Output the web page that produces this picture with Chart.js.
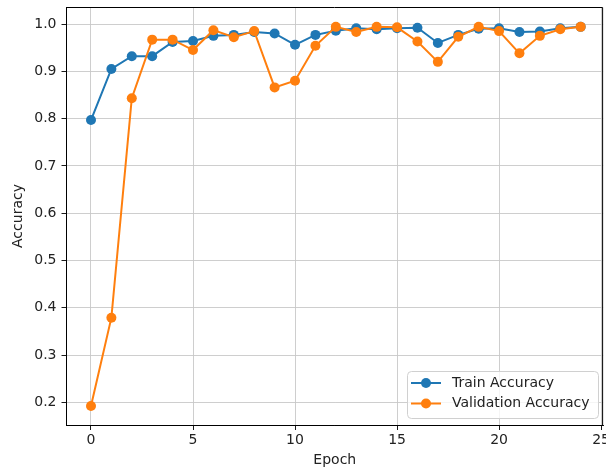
<!DOCTYPE html>
<html>
<head>
<meta charset="utf-8">
<script src="https://cdn.jsdelivr.net/npm/chart.js@4"></script>
<style>
    html, body { margin: 0; padding: 0; background: #fff; }
    #outer { width: 606px; height: 473px; overflow: hidden; }
    #wrap { position: relative; width: 612px; height: 473px; }
</style>
</head>
<body>
<div id="outer"><div id="wrap"><canvas id="accChart"></canvas></div></div>
<script>
// Veriler
const epochs = [0, 1, 2, 3, 4, 5, 6, 7, 8, 9, 10, 11, 12, 13, 14, 15, 16, 17, 18, 19, 20, 21, 22, 23, 24];
const trainAcc = [0.797, 0.905, 0.932, 0.932, 0.962, 0.964, 0.975, 0.977, 0.983, 0.980, 0.956, 0.977, 0.986,
                  0.991, 0.989, 0.991, 0.992, 0.960, 0.977, 0.990, 0.991, 0.983, 0.984, 0.991, 0.994];
const valAcc = [0.192, 0.379, 0.843, 0.967, 0.967, 0.945, 0.987, 0.972, 0.985, 0.866, 0.880, 0.954, 0.994,
                0.983, 0.994, 0.993, 0.963, 0.920, 0.973, 0.994, 0.985, 0.938, 0.975, 0.989, 0.994];
const xTicks = [0, 5, 10, 15, 20, 25];
const yTicks = [0.2, 0.3, 0.4, 0.5, 0.6, 0.7, 0.8, 0.9, 1.0];

const BLUE = '#1f77b4';
const ORANGE = '#ff7f0e';
const FONT = { family: 'DejaVu Sans', size: 14 };

function toPoints(values) {
    return epochs.map(function(e, i) { return { x: e, y: values[i] }; });
}

// Çerçeve: üst ve sağ kenar
const framePlugin = {
    id: 'frame',
    afterDatasetsDraw: function(chart) {
        const a = chart.chartArea;
        const ctx = chart.ctx;
        ctx.save();
        ctx.strokeStyle = '#000';
        ctx.lineWidth = 1;
        ctx.beginPath();
        ctx.moveTo(a.left, a.top + 0.5);
        ctx.lineTo(a.right - 0.5, a.top + 0.5);
        ctx.lineTo(a.right - 0.5, a.bottom);
        ctx.stroke();
        ctx.restore();
    }
};

// Grafik içi lejant (sağ alt)
const legendPlugin = {
    id: 'innerLegend',
    afterDraw: function(chart) {
        const ctx = chart.ctx;
        const items = [
            { label: 'Train Accuracy', color: BLUE },
            { label: 'Validation Accuracy', color: ORANGE }
        ];
        const x0 = 407, y0 = 371, w = 191, h = 47, r = 4;
        ctx.save();
        ctx.fillStyle = 'rgba(255,255,255,0.8)';
        ctx.strokeStyle = '#d0d0d0';
        ctx.lineWidth = 1;
        ctx.beginPath();
        ctx.roundRect(x0 + 0.5, y0 + 0.5, w, h, r);
        ctx.fill();
        ctx.stroke();
        ctx.font = '14px "DejaVu Sans"';
        ctx.textBaseline = 'middle';
        items.forEach(function(it, i) {
            const cy = 383 + i * 20.5;
            ctx.strokeStyle = it.color;
            ctx.lineWidth = 2;
            ctx.beginPath();
            ctx.moveTo(411, cy);
            ctx.lineTo(441, cy);
            ctx.stroke();
            ctx.fillStyle = it.color;
            ctx.beginPath();
            ctx.arc(426, cy, 5, 0, Math.PI * 2);
            ctx.fill();
            ctx.fillStyle = '#222';
            ctx.fillText(it.label, 452, cy);
        });
        ctx.restore();
    }
};

const accData = {
    datasets: [{
        label: 'Train Accuracy',
        data: toPoints(trainAcc),
        borderColor: BLUE,
        backgroundColor: BLUE,
        borderWidth: 2,
        pointRadius: 5,
        pointBorderWidth: 0,
        order: 2
    }, {
        label: 'Validation Accuracy',
        data: toPoints(valAcc),
        borderColor: ORANGE,
        backgroundColor: ORANGE,
        borderWidth: 2,
        pointRadius: 5,
        pointBorderWidth: 0,
        order: 1
    }]
};

const accConfig = {
    type: 'line',
    data: accData,
    options: {
        responsive: true,
        maintainAspectRatio: false,
        animation: false,
        layout: { padding: { top: 7, right: 0, left: 0, bottom: 0 } },
        plugins: {
            legend: { display: false },
            tooltip: { enabled: false }
        },
        scales: {
            x: {
                type: 'linear',
                min: -1.2,
                max: 25.1,
                afterBuildTicks: function(scale) {
                    scale.ticks = xTicks.map(function(v) { return { value: v }; });
                },
                afterFit: function(scale) {
                    scale.height = 48;
                },
                ticks: { color: '#222', font: FONT, padding: 2, maxRotation: 0 },
                grid: { color: '#c8c8c8', lineWidth: 0.9, tickColor: '#000', tickLength: 5 },
                border: { color: '#000', width: 1 },
                title: { display: true, text: 'Epoch', color: '#222', font: FONT, padding: { top: 0, bottom: 4 } }
            },
            y: {
                min: 0.152,
                max: 1.036,
                afterBuildTicks: function(scale) {
                    scale.ticks = yTicks.map(function(v) { return { value: v }; });
                },
                afterFit: function(scale) {
                    scale.width = 66.5;
                    scale.paddingTop = 0;
                    scale.paddingBottom = 0;
                },
                ticks: {
                    color: '#222',
                    font: FONT,
                    padding: 5,
                    callback: function(value) { return value.toFixed(1); }
                },
                grid: { color: '#c8c8c8', lineWidth: 0.9, tickColor: '#000', tickLength: 5 },
                border: { color: '#000', width: 1 },
                title: { display: true, text: 'Accuracy', color: '#222', font: FONT, padding: { top: 10, bottom: 0 } }
            }
        }
    },
    plugins: [framePlugin, legendPlugin]
};

new Chart(document.getElementById('accChart'), accConfig);
</script>
</body>
</html>
